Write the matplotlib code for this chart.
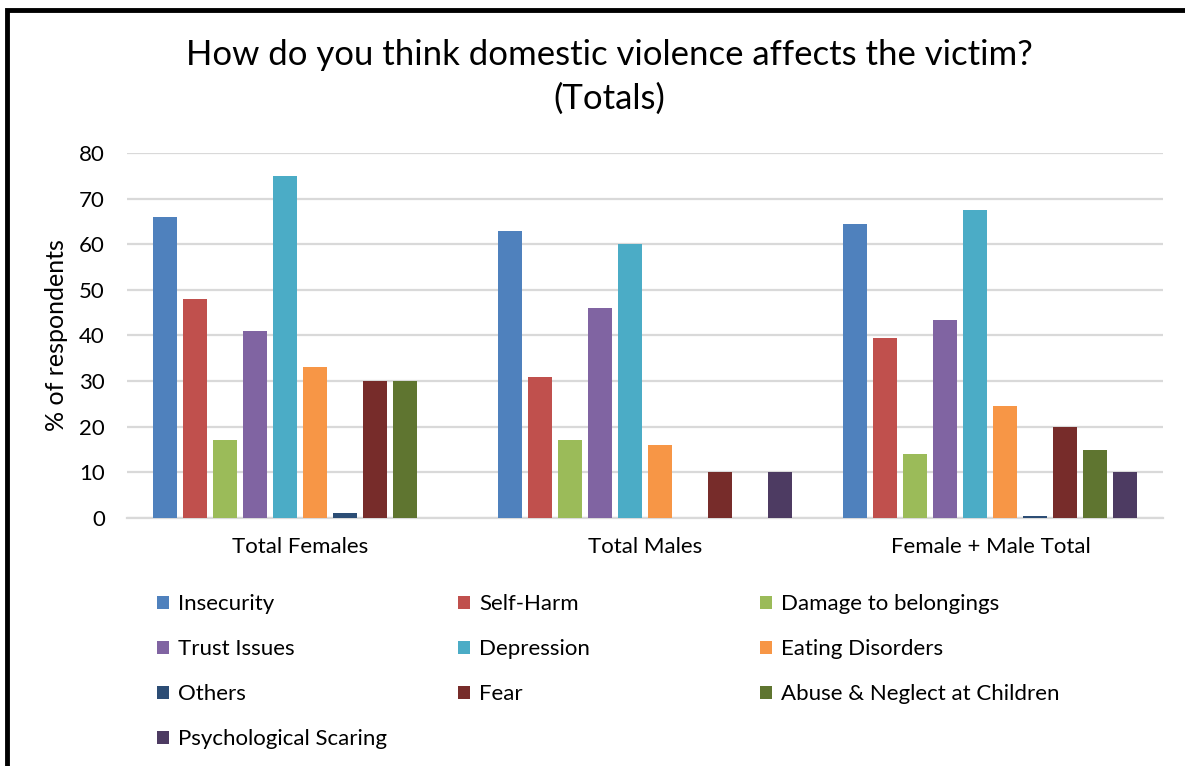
import numpy as np
import matplotlib
matplotlib.use("Agg")
import matplotlib.pyplot as plt
from matplotlib.patches import Rectangle

plt.rcParams['font.family'] = ['Lato', 'DejaVu Sans']

# chart data
groups = ["Total Females", "Total Males", "Female + Male Total"]
series = ["Insecurity", "Self-Harm", "Damage to belongings", "Trust Issues", "Depression",
          "Eating Disorders", "Others", "Fear", "Abuse & Neglect at Children", "Psychological Scaring"]
colors = ["#4F81BD", "#C0504D", "#9BBB59", "#8064A2", "#4BACC6",
          "#F79646", "#2C4D75", "#772C2A", "#5F7530", "#4D3B62"]

insecurity = [66, 63, 64.5]
self_harm = [48, 31, 39.5]
damage = [17, 17, 14]
trust = [41, 46, 43.5]
depression = [75, 60, 67.5]
eating = [33, 16, 24.5]
others = [1, 0, 0.5]
fear = [30, 10, 20]
abuse = [30, 0, 15]
psych = [0, 10, 10]

values = [insecurity, self_harm, damage, trust, depression, eating, others, fear, abuse, psych]
yticks = [0, 10, 20, 30, 40, 50, 60, 70, 80]

fig = plt.figure(figsize=(11.85, 7.66), dpi=100)
ax = fig.add_axes([0.1072, 0.3238, 0.8743, 0.4765])

x = np.arange(len(groups))
step = 0.0869
width = 0.0695
handles = []
for j, (name, vals, col) in enumerate(zip(series, values, colors)):
    b = ax.bar(x + (j - 4.5) * step, vals, width, color=col, label=name, zorder=3)
    handles.append(b)

ax.set_xlim(-0.5, 2.5)
ax.set_ylim(0, 80)
ax.set_yticks(yticks)
ax.set_xticks(x)
ax.set_xticklabels(groups)
ax.yaxis.grid(True, color="#D9D9D9", linewidth=1.6, zorder=0)
ax.tick_params(axis='both', length=0, labelsize=16, colors="black")
ax.tick_params(axis='x', pad=14)
ax.tick_params(axis='y', pad=16)
for s in ["top", "right", "left"]:
    ax.spines[s].set_visible(False)
ax.spines["bottom"].set_color("#D9D9D9")
ax.spines["bottom"].set_linewidth(1.6)
ax.set_ylabel("% of respondents", fontsize=18, labelpad=8)

fig.text(0.514, 0.9, "How do you think domestic violence affects the victim?\n(Totals)",
         ha="center", va="center", fontsize=25, linespacing=1.45)

# legend: three columns placed like the original, filled row by row
columns = [[0, 3, 6, 9], [1, 4, 7], [2, 5, 8]]
col_x = [157 / 1185, 458 / 1185, 760 / 1185]
for cx, idx in zip(col_x, columns):
    leg = fig.legend([handles[i] for i in idx], [series[i] for i in idx],
                     loc="upper left", bbox_to_anchor=(cx, 0.224), frameon=False,
                     fontsize=16, handlelength=0.55, handleheight=0.55, handletextpad=0.4,
                     labelspacing=1.12, borderaxespad=0, borderpad=0)

# thick border at left and top
fig.patches.append(Rectangle((7 / 1185, -0.1), 1.2, 1.1 - 10 / 766, transform=fig.transFigure,
                             fill=False, edgecolor="black", linewidth=3.5))

fig.savefig("out.png", dpi=100)
